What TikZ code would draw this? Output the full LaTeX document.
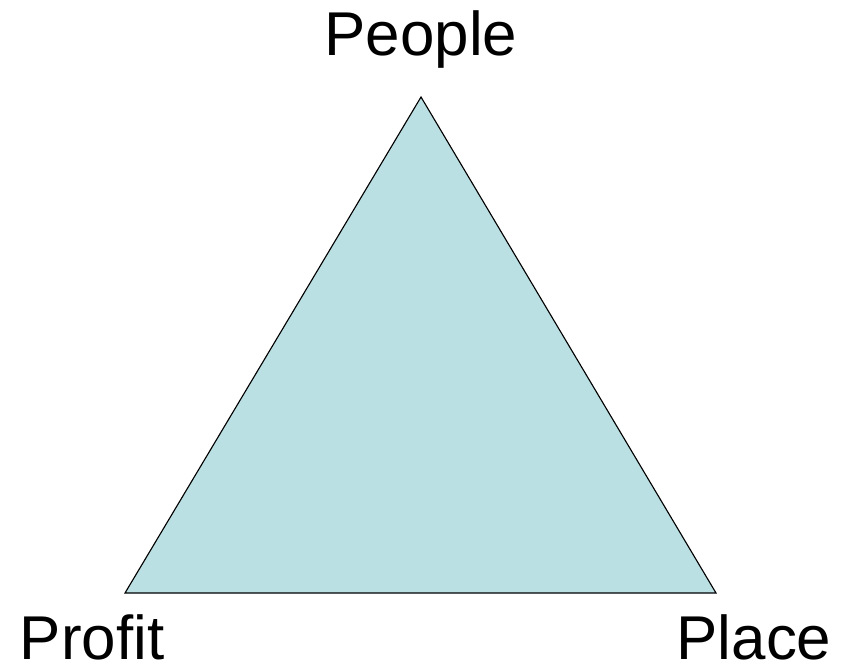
\documentclass[tikz,border=0pt]{standalone}
\usepackage{fontspec}
\setmainfont{Liberation Sans}
\usetikzlibrary{positioning}
\definecolor{tealfill}{HTML}{BBE0E3}
\tikzset{
    corner/.style={font=\fontsize{44}{52}\selectfont, anchor=base, inner sep=0pt, text depth=0pt},
    tri/.style={draw=black, fill=tealfill, line width=0.8pt, line join=miter}
}
\begin{document}
\begin{tikzpicture}[x=0.025cm, y=-0.025cm]
\useasboundingbox (0,0) rectangle (846,667);

% corners of the triangle
\coordinate (top)   at (421,97);
\coordinate (left)  at (125,593);
\coordinate (right) at (716,593);

\filldraw[tri] (top) -- (left) -- (right) -- cycle;

% labels
\node[corner] (people) at (421,55) {People};
\node[corner] (profit) at (92,659) {Profit};
\node[corner] (place)  at (754,659) {Place};

\end{tikzpicture}
\end{document}
